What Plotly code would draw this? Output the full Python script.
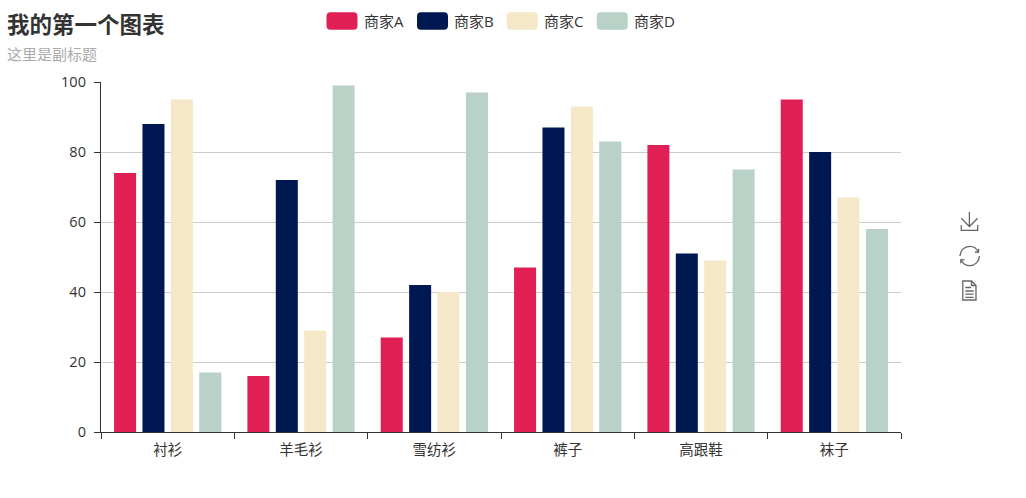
import plotly.graph_objects as go

categories = ["衬衫", "羊毛衫", "雪纺衫", "裤子", "高跟鞋", "袜子"]
series_names = ["商家A", "商家B", "商家C", "商家D"]
sales_a = [74, 16, 27, 47, 82, 95]
sales_b = [88, 72, 42, 87, 51, 80]
sales_c = [95, 29, 40, 93, 49, 67]
sales_d = [17, 99, 97, 83, 75, 58]
y_ticks = [0, 20, 40, 60, 80, 100]
colors = ["#e01f54", "#001852", "#f5e8c8", "#b8d2c7"]

FONT = "Open Sans, Noto Sans CJK SC"
WIDTH, HEIGHT = 1026, 498
# plot area in page pixels
LEFT, RIGHT, TOP, BOTTOM = 101, 901, 82, 432


def px(x, y):
    # page pixels to paper coordinates
    return (x - LEFT) / (RIGHT - LEFT), (BOTTOM - y) / (BOTTOM - TOP)


def path_from_px(parts):
    # parts like ("M", x, y) or ("C", x1, y1, x2, y2, x, y)
    out = []
    for p in parts:
        nums = p[1:]
        pairs = [px(nums[i], nums[i + 1]) for i in range(0, len(nums), 2)]
        out.append(p[0] + " ".join(f"{a:.5f},{b:.5f}" for a, b in pairs))
    return " ".join(out)


def add_px_shape(fig, parts, **kw):
    fig.add_shape(type="path", xref="paper", yref="paper", path=path_from_px(parts), **kw)


def add_px_text(fig, x, y, text, size, color, bold=False):
    a, b = px(x, y)
    fig.add_annotation(
        x=a, y=b, xref="paper", yref="paper",
        text=f"<b>{text}</b>" if bold else text,
        showarrow=False, xanchor="left", yanchor="middle",
        borderpad=0, borderwidth=0,
        font=dict(family=FONT, size=size, color=color),
    )


def rounded_rect(x0, y0, x1, y1, r):
    return [
        ("M", x0 + r, y0), ("L", x1 - r, y0), ("Q", x1, y0, x1, y0 + r),
        ("L", x1, y1 - r), ("Q", x1, y1, x1 - r, y1), ("L", x0 + r, y1),
        ("Q", x0, y1, x0, y1 - r), ("L", x0, y0 + r), ("Q", x0, y0, x0 + r, y0), ("Z",),
    ]


fig = go.Figure()
for name, values, color in zip(series_names, [sales_a, sales_b, sales_c, sales_d], colors):
    fig.add_trace(go.Bar(x=categories, y=values, name=name, marker=dict(color=color, line=dict(width=0))))

fig.update_layout(
    width=WIDTH,
    height=HEIGHT,
    margin=dict(l=LEFT, r=WIDTH - RIGHT, t=TOP, b=HEIGHT - BOTTOM, pad=0),
    barmode="group",
    bargap=0.148,
    bargroupgap=0.225,
    showlegend=False,
    plot_bgcolor="white",
    paper_bgcolor="white",
    font=dict(family=FONT, size=15, color="#333"),
)
fig.update_xaxes(
    type="category",
    tickson="boundaries",
    ticks="outside",
    ticklen=6,
    tickwidth=1.3,
    tickcolor="#333",
    ticklabelstandoff=4,
    showline=True,
    linecolor="#333",
    linewidth=1.3,
    showgrid=False,
    tickfont=dict(family=FONT, size=14.5, color="#333"),
)
fig.update_yaxes(
    range=[0, 100],
    tickvals=y_ticks,
    ticks="outside",
    ticklen=6,
    tickwidth=1.3,
    tickcolor="#333",
    ticklabelstandoff=5,
    showline=True,
    linecolor="#333",
    linewidth=1.3,
    showgrid=True,
    gridcolor="#ccc",
    gridwidth=1.3,
    zeroline=False,
    tickfont=dict(family=FONT, size=14.5, color="#333"),
)

# title block
add_px_text(fig, 7, 24, "我的第一个图表", 22.5, "#333", bold=True)
add_px_text(fig, 7, 54, "这里是副标题", 15, "#aaa")

# legend, rounded swatches like the original
swatch_x = [326.5, 417, 506.8, 596.8]
for x0, name, color in zip(swatch_x, series_names, colors):
    add_px_shape(fig, rounded_rect(x0, 12.3, x0 + 31, 29.7, 4), fillcolor=color, line=dict(width=0))
    add_px_text(fig, x0 + 37.4, 20.5, name, 15, "#333")

# toolbox icons
icon = dict(line=dict(color="#666", width=1.3))
add_px_shape(fig, [("M", 969.4, 212), ("L", 969.4, 226.5), ("M", 961.3, 218.3), ("L", 969.4, 226.5), ("L", 977.7, 218.3),
                   ("M", 961.3, 225), ("L", 961.3, 230.3), ("L", 977.7, 230.3), ("L", 977.7, 225)], **icon)
add_px_shape(fig, [("M", 960, 256), ("C", 960, 250.65, 964.35, 246.3, 969.7, 246.3), ("C", 973.4, 246.3, 976.7, 248.5, 978.4, 252),
                   ("M", 978.8, 248.8), ("L", 978.4, 252.4), ("L", 975, 252),
                   ("M", 979.4, 256), ("C", 979.4, 261.35, 975.05, 265.7, 969.7, 265.7), ("C", 966, 265.7, 962.7, 263.5, 961, 260),
                   ("M", 960.6, 263.2), ("L", 961, 259.6), ("L", 964.4, 260)], **icon)
add_px_shape(fig, [("M", 962.8, 281), ("L", 971.5, 281), ("L", 976, 285.5), ("L", 976, 300), ("L", 962.8, 300), ("Z",),
                   ("M", 971.5, 281), ("L", 971.5, 285.5), ("L", 976, 285.5),
                   ("M", 965.3, 287.5), ("L", 971, 287.5), ("M", 965.3, 291), ("L", 973.6, 291),
                   ("M", 965.3, 294.2), ("L", 973.6, 294.2), ("M", 965.3, 297.4), ("L", 973.6, 297.4)], **icon)

fig.write_html(
    "out.html",
    config=dict(displayModeBar=False),
    post_script="document.body.style.margin='0';",
)
